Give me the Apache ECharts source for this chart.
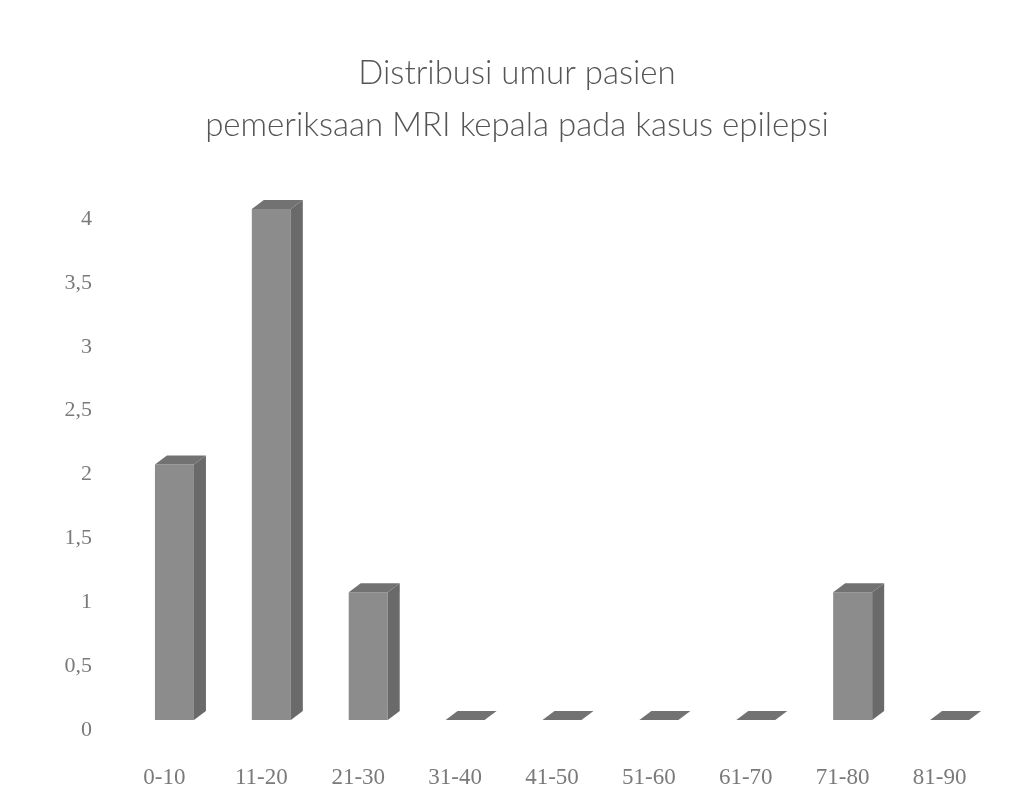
<!DOCTYPE html>
<html>
<head>
<meta charset="utf-8">
<script src="https://cdn.jsdelivr.net/npm/echarts@6/dist/echarts.min.js"></script>
<style>
  html, body { margin: 0; padding: 0; background: #ffffff; }
  #chart { width: 1034px; height: 805px; }
</style>
</head>
<body>
<div id="chart"></div>
<script>
// Age groups and patient counts
const categories = ['0-10', '11-20', '21-30', '31-40', '41-50', '51-60', '61-70', '71-80', '81-90'];
const counts = [2, 4, 1, 0, 0, 0, 0, 1, 0];
const yTicks = [0, 0.5, 1, 1.5, 2, 2.5, 3, 3.5, 4];

const titleLines = ['Distribusi umur pasien', 'pemeriksaan MRI kepala pada kasus epilepsi'];

// Shape of the pseudo-3D column
const FRONT_W = 39;   // front face width
const DEPTH_X = 12;   // depth offset to the right
const DEPTH_Y = 9;    // depth offset upward
const LIFT = 10;      // front face sits slightly above the axis baseline

const chart = echarts.init(document.getElementById('chart'));

function renderColumn(params, api) {
  const idx = api.value(0);
  const val = api.value(1);
  const top = api.coord([idx, val]);
  const base = api.coord([idx, 0]);
  const cx = top[0];
  const x0 = cx - FRONT_W / 2;
  const x1 = cx + FRONT_W / 2;
  const yb = base[1] - LIFT;
  const yt = top[1] - LIFT;
  const children = [];
  if (val > 0) {
    children.push({
      type: 'polygon',
      shape: { points: [[x0, yt], [x1, yt], [x1, yb], [x0, yb]] },
      style: { fill: '#8c8c8c' }
    });
    children.push({
      type: 'polygon',
      shape: { points: [[x1, yt], [x1 + DEPTH_X, yt - DEPTH_Y], [x1 + DEPTH_X, yb - DEPTH_Y], [x1, yb]] },
      style: { fill: '#6a6a6a' }
    });
  }
  children.push({
    type: 'polygon',
    shape: { points: [[x0, yt], [x1, yt], [x1 + DEPTH_X, yt - DEPTH_Y], [x0 + DEPTH_X, yt - DEPTH_Y]] },
    style: { fill: '#727272' }
  });
  return { type: 'group', children: children };
}

chart.setOption({
  backgroundColor: '#ffffff',
  animation: false,
  title: {
    text: titleLines.join('\n'),
    left: 'center',
    top: 42,
    textStyle: {
      fontFamily: 'Lato, "Open Sans", sans-serif',
      fontWeight: 300,
      fontSize: 33,
      lineHeight: 52,
      color: '#555555'
    }
  },
  grid: { left: 126, right: 36, top: 219, bottom: 75 },
  xAxis: {
    type: 'category',
    data: categories,
    axisLine: { show: false },
    axisTick: { show: false },
    axisLabel: {
      margin: 36,
      padding: [0, 20, 0, 0],
      fontFamily: '"Liberation Serif", "DejaVu Serif", serif',
      fontSize: 23,
      color: '#7a7a7a'
    }
  },
  yAxis: {
    type: 'value',
    min: 0,
    max: 4,
    interval: 0.5,
    splitLine: { show: false },
    axisLine: { show: false },
    axisTick: { show: false },
    axisLabel: {
      margin: 34,
      fontFamily: '"Liberation Serif", "DejaVu Serif", serif',
      fontSize: 22,
      color: '#7a7a7a',
      formatter: function (v) {
        return yTicks.indexOf(v) >= 0 ? String(v).replace('.', ',') : '';
      }
    }
  },
  series: [{
    type: 'custom',
    renderItem: renderColumn,
    data: counts.map(function (v, i) { return [i, v]; }),
    encode: { x: 0, y: 1 }
  }]
});
</script>
</body>
</html>
